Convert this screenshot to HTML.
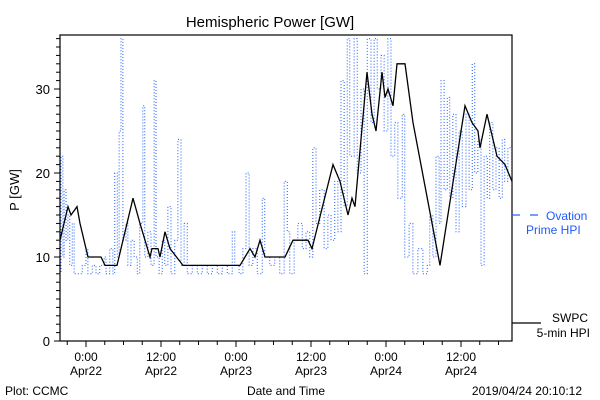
<!DOCTYPE html>
<html><head><meta charset="utf-8"><style>
body{margin:0;background:#fff;}
svg{display:block;font-family:"Liberation Sans",sans-serif;}
</style></head><body>
<svg width="600" height="400" viewBox="0 0 600 400">
<rect width="600" height="400" fill="#fff"/>
<defs><clipPath id="pc"><rect x="60" y="35" width="452" height="306"/></clipPath></defs>
<text x="270" y="27" font-size="15" text-anchor="middle">Hemispheric Power [GW]</text>
<text x="0" y="0" font-size="13" text-anchor="middle" transform="translate(19,190) rotate(-90)">P [GW]</text>
<text x="286" y="395" font-size="12" text-anchor="middle">Date and Time</text>
<text x="5" y="395" font-size="12">Plot: CCMC</text>
<text x="582" y="395" font-size="12" text-anchor="end">2019/04/24 20:10:12</text>
<g id="axes"></g>
<g id="series" clip-path="url(#pc)"></g>
<g>
<line x1="512" y1="215" x2="520" y2="215" stroke="#1e5aff" stroke-width="1.2"/>
<line x1="530" y1="215" x2="538" y2="215" stroke="#1e5aff" stroke-width="1.2"/>
<text x="546" y="220" font-size="12" fill="#1e5aff">Ovation</text>
<text x="526" y="234" font-size="12" fill="#1e5aff">Prime HPI</text>
</g>
<g>
<line x1="512" y1="323" x2="541" y2="323" stroke="#000" stroke-width="1.2"/>
<text x="588" y="322" font-size="12" text-anchor="end">SWPC</text>
<text x="590" y="337" font-size="12" text-anchor="end">5-min HPI</text>
</g>
</svg>
<script>
const xTickHours=[0,12,24,36,48,60];
const xTickTimes=["0:00","12:00","0:00","12:00","0:00","12:00"];
const xTickDates=["Apr22","Apr22","Apr23","Apr23","Apr24","Apr24"];
const yTicks=[0,10,20,30];
const swpcHours=[-4.16,-2.88,-2.4,-1.44,-0.96,0.32,2.4,3.04,4.96,7.52,8.64,10.24,10.56,11.52,11.84,12.64,13.44,15.52,24.64,25.44,26.24,27.04,27.84,28.64,31.84,33.12,35.52,36.16,39.52,40.64,41.92,42.56,43.04,44.96,45.76,46.4,47.36,47.84,48.32,49.12,49.76,51.04,52.32,56.64,60.64,61.76,62.72,63.04,64.16,65.76,67.04,68.16];
const swpcValues=[12,16,15,16,14,10,10,9,9,17,14,10,11,11,10,13,11,9,9,10,11,10,12,10,10,12,12,11,21,19,15,17,16,32,27,25,32,29,30,28,33,33,26,9,28,26,25,23,27,22,21,19];
const ovHours=[-4.2,-4.0,-3.7,-3.5,-3.2,-2.9,-2.6,-2.2,-1.9,-1.3,-0.6,0,0.3,1.0,1.6,2.2,2.9,3.2,3.8,4.3,4.6,5.0,5.3,5.6,5.9,6.4,6.7,7.2,7.7,8.2,8.6,9.1,9.4,9.9,10.4,10.9,11.2,11.7,12.2,12.6,13.1,13.6,14.2,14.7,15.2,15.7,16.2,17.0,17.8,18.6,19.4,20.2,21.0,21.8,22.6,23.4,23.8,24.5,25.1,25.6,26.1,26.7,27.4,28.2,28.6,29.4,30.2,31.0,31.7,32.2,32.6,33.3,33.9,34.6,35.2,35.8,36.3,36.8,37.4,38.1,38.7,39.2,39.8,40.3,40.8,41.3,41.8,42.2,42.9,43.4,44.0,44.5,45.0,45.6,46.1,46.6,47.2,47.7,48.3,48.8,49.4,49.9,50.6,51.0,51.7,52.3,53.1,53.9,54.6,55.0,55.5,56.0,56.5,56.8,57.3,57.8,58.2,58.7,59.2,59.7,60.2,60.8,61.3,61.8,62.2,62.7,63.2,63.7,64.2,64.6,65.1,65.6,66.1,66.6,67.0,67.5,68.2];
const ovValues=[8,22,10,18,12,15,9,14,8,8,9,11,8,9,8,9,10,8,11,8,20,10,25,36,12,14,9,12,10,8,14,28,10,13,9,31,10,8,12,9,16,8,12,24,9,14,8,9,8,9,8,9,8,9,8,13,9,8,11,20,9,11,8,17,10,9,10,8,19,13,8,12,14,11,13,10,23,14,18,11,15,12,19,13,31,16,36,22,36,20,30,8,36,26,36,30,34,25,36,22,26,17,27,10,14,8,11,8,9,15,10,22,14,31,18,29,17,27,13,25,16,27,18,33,20,24,9,22,17,26,18,23,17,24,19,23,18];
const X0=60,X1=512,Y0=341,Y1=35,HMIN=-4.16,HMAX=68.16,VMIN=0,VMAX=36.43;
const xs=h=>X0+(h-HMIN)/(HMAX-HMIN)*(X1-X0);
const ys=v=>Y0-(v-VMIN)/(VMAX-VMIN)*(Y0-Y1);
const NS="http://www.w3.org/2000/svg";
const axes=document.getElementById('axes'),series=document.getElementById('series');
function mk(t,a,p){const e=document.createElementNS(NS,t);for(const k in a)e.setAttribute(k,a[k]);p.appendChild(e);return e;}
const frame=mk('rect',{x:X0,y:Y1,width:X1-X0,height:Y0-Y1,fill:'none',stroke:'#000','stroke-width':1.2},axes);


for(let v=0;v<=36;v++){const major=v%10===0;const t=mk('line',{x1:X0-(major?6:4),x2:X0,y1:ys(v),y2:ys(v),stroke:'#000'},axes);

}
yTicks.forEach(v=>{const t=mk('text',{x:X0-10,y:ys(v)+5,'font-size':13,'text-anchor':'end'},axes);t.textContent=v;

});
for(let h=-3;h<=68;h+=3){const major=h%12===0;const t=mk('line',{x1:xs(h),x2:xs(h),y1:Y0,y2:Y0+(major?6:4),stroke:'#000'},axes);

}
xTickHours.forEach((h,i)=>{const a=mk('text',{x:xs(h),y:361,'font-size':12,'text-anchor':'middle'},axes);a.textContent=xTickTimes[i];


const b=mk('text',{x:xs(h),y:375,'font-size':12,'text-anchor':'middle'},axes);b.textContent=xTickDates[i];

});
function stepPts(H,V){let p=[];for(let i=0;i<H.length;i++){if(i>0)p.push(xs(H[i])+','+ys(V[i-1]));p.push(xs(H[i])+','+ys(V[i]));}return p.join(' ');}
const ov=mk('polyline',{points:stepPts(ovHours,ovValues),fill:'none',stroke:'#1e5aff','stroke-width':1,'stroke-dasharray':'1 2'},series);


let sp=[];swpcHours.forEach((h,i)=>sp.push(xs(h)+','+ys(swpcValues[i])));
const sw=mk('polyline',{points:sp.join(' '),fill:'none',stroke:'#000','stroke-width':1.3},series);


</script>
</body></html>
